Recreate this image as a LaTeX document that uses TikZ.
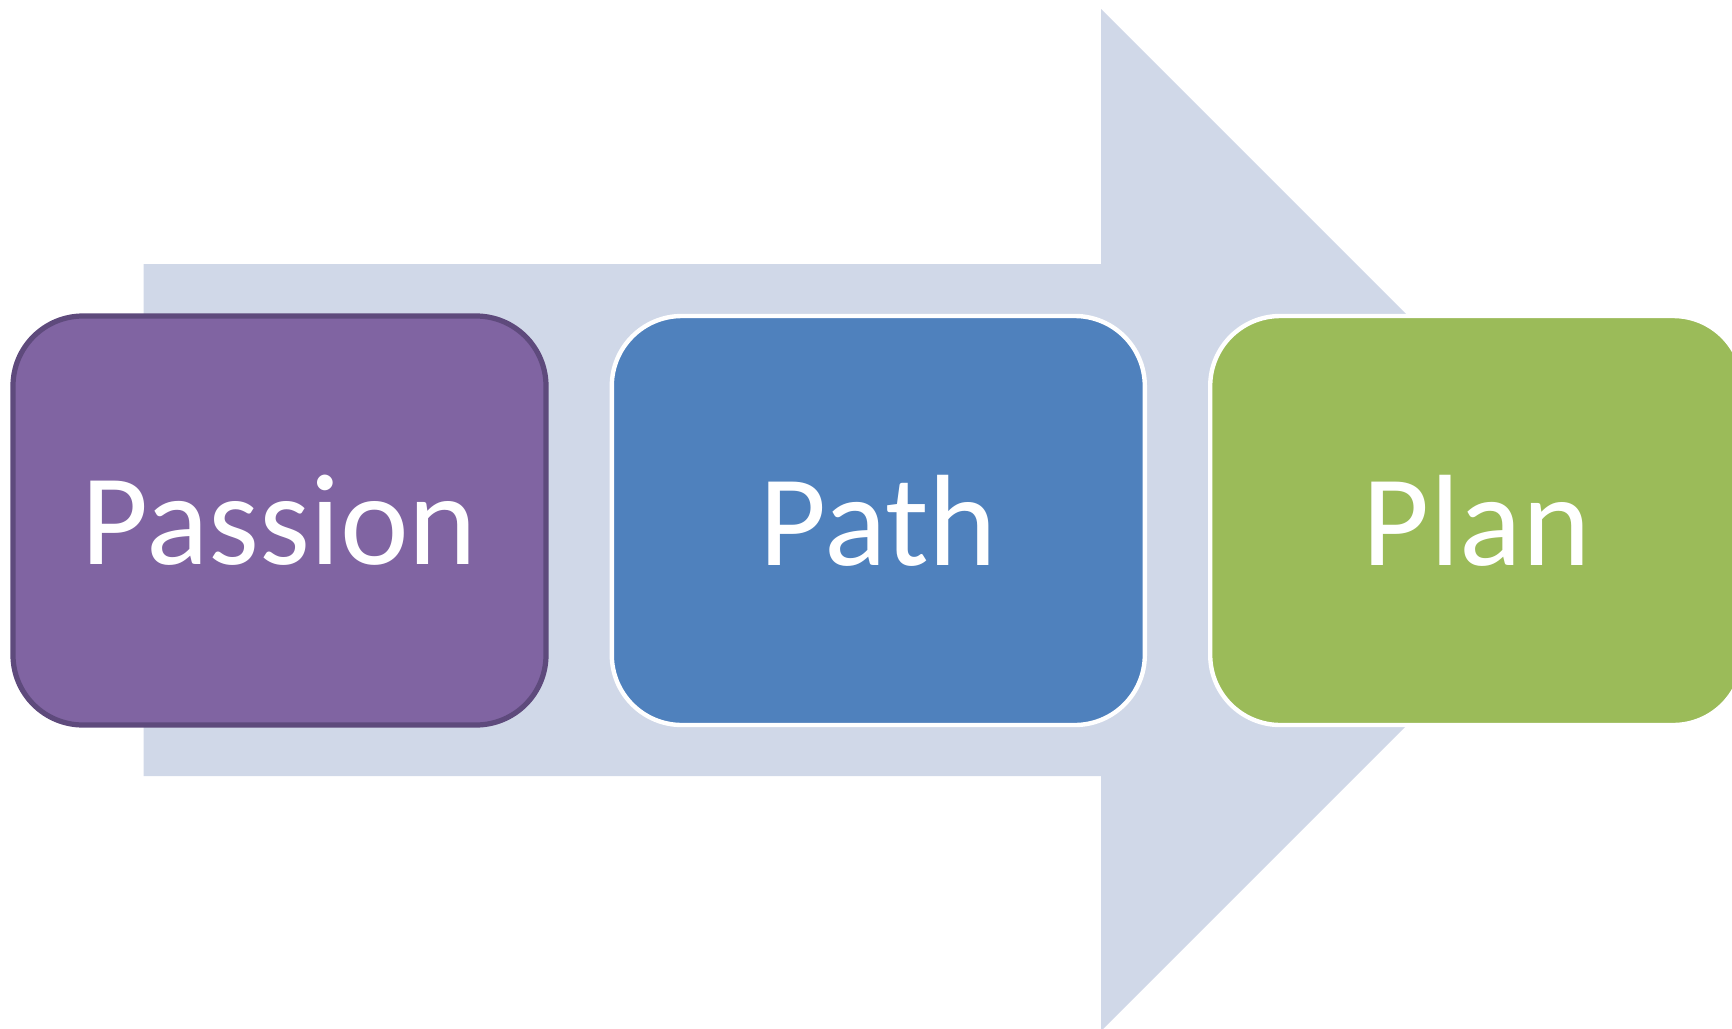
\documentclass[tikz,border=0pt]{standalone}
\usepackage{fontspec}
\setmainfont{Carlito}
\usetikzlibrary{positioning}
\definecolor{ppArrow}{RGB}{208,216,232}
\definecolor{ppPurple}{RGB}{128,100,162}
\definecolor{ppPurpleDark}{RGB}{94,74,124}
\definecolor{ppBlue}{RGB}{79,129,189}
\definecolor{ppGreen}{RGB}{155,187,89}
\tikzset{
    base/.style={font=\fontsize{65}{78}\selectfont, text=white, align=center},
    stage/.style={base, rectangle, rounded corners=35pt, line width=2.2pt, draw=white,
                  minimum width=266.5pt, minimum height=204.5pt, inner sep=0pt},
    backarrow/.style={fill=ppArrow, draw=none}
}
\begin{document}
\begin{tikzpicture}[x=0.5pt, y=-0.5pt]
  \useasboundingbox (0,0) rectangle (1732,1028);
  % Process arrow behind the stages
  \path[backarrow] (143.6,264) -- (1101,264) -- (1101,9) -- (1612,520)
    -- (1101,1031) -- (1101,776) -- (143.6,776) -- cycle;

  % Stages
  \node[stage, fill=ppPurple, draw=ppPurpleDark, line width=2.6pt] (passion) at (279.5,520.5) {Passion};
  \node[stage, fill=ppBlue, right=30.5pt of passion] (path) {Path};
  \node[stage, fill=ppGreen, right=30.5pt of path] (plan) {Plan};
\end{tikzpicture}
\end{document}
